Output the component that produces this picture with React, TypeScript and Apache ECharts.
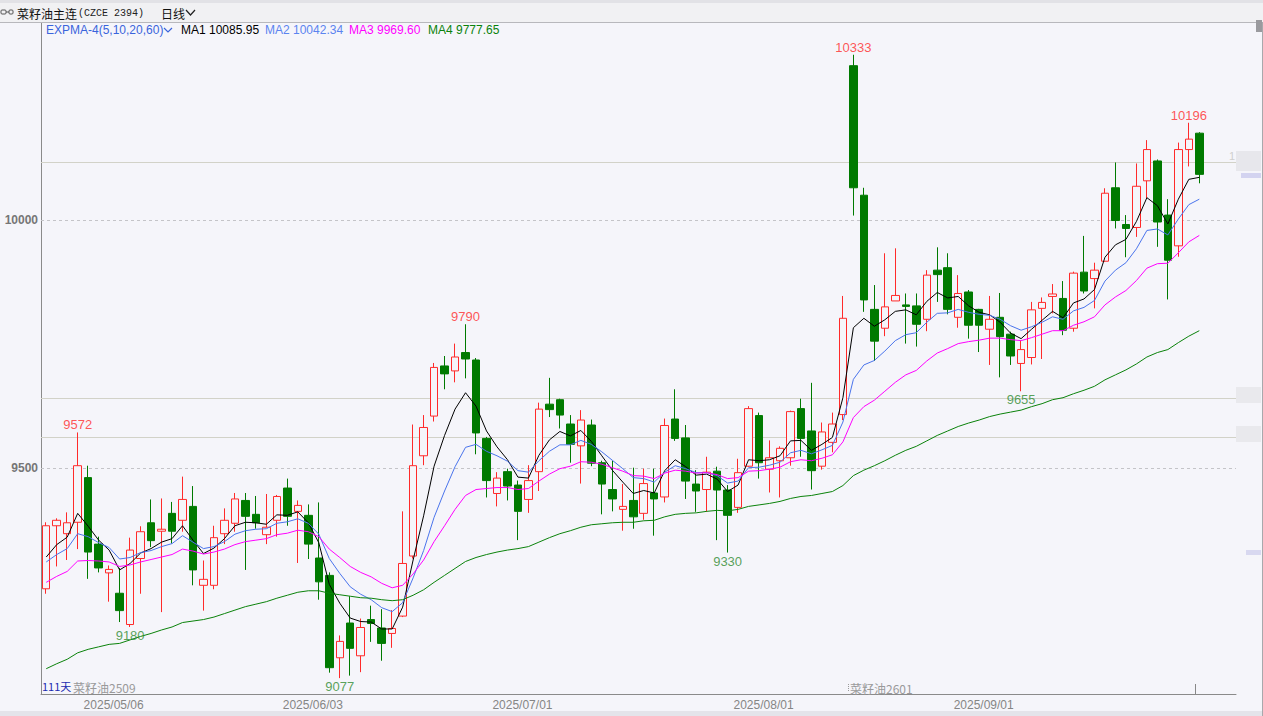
import React, { useEffect, useRef } from "react";
import * as echarts from "echarts";

// ---------- data ----------
const dates = [
  "2025/04/23","2025/04/24","2025/04/25","2025/04/28","2025/04/29","2025/04/30",
  "2025/05/06","2025/05/07","2025/05/08","2025/05/09",
  "2025/05/12","2025/05/13","2025/05/14","2025/05/15","2025/05/16",
  "2025/05/19","2025/05/20","2025/05/21","2025/05/22","2025/05/23",
  "2025/05/26","2025/05/27","2025/05/28","2025/05/29","2025/05/30",
  "2025/06/03","2025/06/04","2025/06/05","2025/06/06",
  "2025/06/09","2025/06/10","2025/06/11","2025/06/12","2025/06/13",
  "2025/06/16","2025/06/17","2025/06/18","2025/06/19","2025/06/20",
  "2025/06/23","2025/06/24","2025/06/25","2025/06/26","2025/06/27",
  "2025/06/30",
  "2025/07/01","2025/07/02","2025/07/03","2025/07/04",
  "2025/07/07","2025/07/08","2025/07/09","2025/07/10","2025/07/11",
  "2025/07/14","2025/07/15","2025/07/16","2025/07/17","2025/07/18",
  "2025/07/21","2025/07/22","2025/07/23","2025/07/24","2025/07/25",
  "2025/07/28","2025/07/29","2025/07/30","2025/07/31",
  "2025/08/01",
  "2025/08/04","2025/08/05","2025/08/06","2025/08/07","2025/08/08",
  "2025/08/11","2025/08/12","2025/08/13","2025/08/14","2025/08/15",
  "2025/08/18","2025/08/19","2025/08/20","2025/08/21","2025/08/22",
  "2025/08/25","2025/08/26","2025/08/27","2025/08/28","2025/08/29",
  "2025/09/01","2025/09/02","2025/09/03","2025/09/04","2025/09/05",
  "2025/09/08","2025/09/09","2025/09/10","2025/09/11","2025/09/12",
  "2025/09/15","2025/09/16","2025/09/17","2025/09/18","2025/09/19",
  "2025/09/22","2025/09/23","2025/09/24","2025/09/25","2025/09/26",
  "2025/09/29","2025/09/30",
];
const padCategories = ["p1", "p2", "p3"];

const opens = [
  9257, 9384, 9368, 9391, 9481, 9347, 9289, 9248, 9185, 9318,
  9390, 9373, 9409, 9395, 9423, 9264, 9264, 9368, 9389, 9435,
  9407, 9366, 9395, 9460, 9413, 9405, 9319, 9284, 9118, 9188,
  9122, 9195, 9178, 9167, 9202, 9323, 9525, 9605, 9706, 9696,
  9733, 9718, 9560, 9449, 9493, 9466, 9437, 9493, 9629, 9638,
  9589, 9545, 9587, 9511, 9457, 9417, 9435, 9409, 9450, 9442,
  9599, 9561, 9468, 9457, 9494, 9456, 9421, 9504, 9606, 9498,
  9515, 9521, 9620, 9575, 9504, 9552, 9608, 10311, 10050, 9820,
  9782, 9837, 9829, 9827, 9800, 9899, 9904, 9804, 9855, 9820,
  9780, 9804, 9770, 9711, 9723, 9822, 9846, 9842, 9782, 9895,
  9882, 9917, 10065, 9991, 9985, 10079, 10119, 10010, 9948, 10142,
  10175,
];
const closes = [
  9384, 9395, 9390, 9505, 9331, 9299, 9296, 9213, 9335, 9372,
  9354, 9377, 9373, 9437, 9295, 9276, 9360, 9395, 9438, 9403,
  9390, 9381, 9443, 9403, 9425, 9347, 9271, 9098, 9151, 9137,
  9179, 9187, 9147, 9177, 9308, 9505, 9582, 9703, 9690, 9724,
  9720, 9571, 9475, 9480, 9464, 9413, 9475, 9619, 9618, 9607,
  9548, 9597, 9510, 9468, 9438, 9423, 9402, 9469, 9438, 9586,
  9560, 9474, 9454, 9492, 9456, 9405, 9491, 9620, 9511, 9521,
  9540, 9614, 9560, 9495, 9573, 9589, 9802, 10065, 9839, 9756,
  9825, 9848, 9826, 9790, 9889, 9890, 9820, 9852, 9788, 9788,
  9800, 9765, 9726, 9739, 9819, 9834, 9851, 9778, 9893, 9857,
  9899, 10054, 9999, 9983, 10068, 10142, 9996, 9919, 10142, 10163,
  10092,
];
const lows = [
  9247, 9302, 9315, 9337, 9277, 9290, 9231, 9190, 9180, 9247,
  9341, 9210, 9348, 9372, 9264, 9213, 9256, 9347, 9372, 9295,
  9378, 9347, 9362, 9384, 9309, 9317, 9235, 9088, 9077, 9082,
  9089, 9150, 9112, 9138, 9200, 9318, 9506, 9594, 9659, 9673,
  9681, 9528, 9441, 9423, 9435, 9355, 9410, 9454, 9603, 9580,
  9511, 9469, 9504, 9407, 9413, 9374, 9378, 9396, 9364, 9431,
  9555, 9438, 9412, 9412, 9355, 9330, 9410, 9503, 9479, 9451,
  9441, 9505, 9523, 9457, 9497, 9532, 9597, 10009, 9815, 9716,
  9766, 9837, 9751, 9745, 9776, 9835, 9810, 9783, 9761, 9734,
  9708, 9683, 9708, 9655, 9709, 9720, 9812, 9768, 9775, 9852,
  9822, 9916, 9983, 9925, 9966, 10044, 9946, 9840, 9926, 10108,
  10074,
];
const highs = [
  9391, 9399, 9411, 9572, 9505, 9362, 9304, 9299, 9360, 9383,
  9437, 9439, 9432, 9483, 9464, 9314, 9384, 9419, 9450, 9450,
  9444, 9448, 9446, 9479, 9435, 9427, 9431, 9290, 9163, 9242,
  9197, 9223, 9216, 9214, 9413, 9588, 9607, 9712, 9726, 9751,
  9790, 9722, 9563, 9492, 9499, 9475, 9506, 9632, 9682, 9640,
  9607, 9617, 9598, 9515, 9515, 9468, 9501, 9499, 9499, 9600,
  9659, 9587, 9496, 9523, 9503, 9466, 9519, 9625, 9612, 9556,
  9544, 9616, 9640, 9672, 9592, 9612, 9847, 10333, 10065, 9869,
  9933, 9943, 9852, 9852, 9899, 9945, 9933, 9889, 9859, 9821,
  9847, 9853, 9775, 9758, 9835, 9844, 9871, 9877, 9896, 9968,
  9914, 10064, 10116, 10010, 10114, 10161, 10122, 10042, 10156, 10196,
  10177,
];

// EXPMA lines (MA1..MA4)
const ma1 = [
  9321, 9346, 9361, 9409, 9383, 9355, 9335, 9295, 9308, 9329,
  9338, 9351, 9358, 9384, 9355, 9328, 9339, 9358, 9384, 9391,
  9390, 9387, 9406, 9405, 9412, 9390, 9350, 9266, 9228, 9198,
  9191, 9190, 9176, 9176, 9220, 9315, 9404, 9504, 9566, 9619,
  9652, 9625, 9575, 9543, 9517, 9482, 9480, 9526, 9557, 9574,
  9565, 9576, 9554, 9525, 9496, 9472, 9449, 9455, 9450, 9495,
  9517, 9503, 9486, 9488, 9478, 9453, 9466, 9517, 9515, 9517,
  9525, 9555, 9556, 9536, 9548, 9562, 9642, 9783, 9802, 9786,
  9799, 9816, 9819, 9809, 9836, 9854, 9843, 9846, 9827, 9814,
  9809, 9794, 9772, 9761, 9780, 9798, 9816, 9803, 9833, 9841,
  9860, 9925, 9950, 9961, 9997, 10045, 10029, 9992, 10042, 10082,
  10086,
];
const ma2 = [
  9311, 9326, 9338, 9368, 9362, 9350, 9340, 9317, 9320, 9330,
  9334, 9342, 9348, 9364, 9351, 9338, 9342, 9352, 9367, 9374,
  9377, 9378, 9389, 9392, 9398, 9389, 9367, 9318, 9288, 9261,
  9246, 9235, 9219, 9211, 9229, 9279, 9334, 9401, 9454, 9503,
  9542, 9548, 9534, 9525, 9514, 9495, 9492, 9515, 9534, 9547,
  9547, 9556, 9548, 9533, 9516, 9499, 9481, 9479, 9472, 9492,
  9505, 9499, 9491, 9491, 9485, 9470, 9474, 9501, 9502, 9506,
  9512, 9531, 9536, 9529, 9537, 9546, 9593, 9679, 9708, 9717,
  9736, 9757, 9769, 9773, 9794, 9812, 9813, 9820, 9814, 9810,
  9808, 9800, 9787, 9778, 9785, 9794, 9805, 9800, 9817, 9824,
  9838, 9877, 9899, 9914, 9942, 9979, 9982, 9970, 10002, 10031,
  10042,
];
const ma3 = [
  9270, 9282, 9292, 9313, 9314, 9313, 9311, 9302, 9305, 9311,
  9316, 9321, 9326, 9337, 9333, 9327, 9331, 9337, 9346, 9352,
  9355, 9358, 9366, 9369, 9375, 9372, 9362, 9337, 9320, 9302,
  9290, 9281, 9268, 9259, 9264, 9287, 9315, 9352, 9384, 9417,
  9445, 9457, 9459, 9461, 9461, 9457, 9459, 9474, 9488, 9499,
  9504, 9513, 9512, 9508, 9501, 9494, 9485, 9484, 9479, 9490,
  9496, 9494, 9490, 9491, 9487, 9479, 9481, 9494, 9495, 9498,
  9502, 9513, 9517, 9515, 9520, 9527, 9553, 9602, 9624, 9637,
  9655, 9673, 9688, 9697, 9716, 9732, 9741, 9751, 9755, 9758,
  9762, 9762, 9759, 9757, 9763, 9770, 9777, 9777, 9788, 9795,
  9805, 9829, 9845, 9858, 9878, 9903, 9912, 9913, 9934, 9956,
  9969,
];
const ma4 = [
  9096, 9106, 9115, 9128, 9135, 9140, 9145, 9147, 9154, 9161,
  9167, 9174, 9180, 9189, 9192, 9195, 9200, 9207, 9214, 9221,
  9226, 9231, 9238, 9244, 9250, 9253, 9253, 9248, 9245, 9242,
  9239, 9238, 9235, 9233, 9235, 9244, 9255, 9270, 9284, 9298,
  9312, 9320, 9326, 9331, 9335, 9338, 9342, 9351, 9360, 9368,
  9374, 9381, 9386, 9388, 9390, 9391, 9391, 9394, 9395, 9402,
  9407, 9409, 9410, 9413, 9415, 9414, 9417, 9423, 9426, 9429,
  9433, 9439, 9443, 9445, 9449, 9453, 9465, 9485, 9496, 9505,
  9515, 9526, 9536, 9544, 9555, 9566, 9575, 9584, 9591, 9597,
  9604, 9609, 9613, 9617, 9624, 9630, 9638, 9642, 9650, 9657,
  9665, 9678, 9688, 9698, 9710, 9724, 9733, 9739, 9753, 9766,
  9777,
];

const xLabelDates = ["2025/05/06", "2025/06/03", "2025/07/01", "2025/08/01", "2025/09/01"];
const yTickValues = [9500, 10000];
const refLevels = [10117, 9641, 9563];
const peakIdx = [3, 40, 77, 109];
const troughIdx = [8, 28, 65, 93];
const legendNames = ["MA1", "MA2", "MA3", "MA4"];
const legendValues = ["10085.95", "10042.34", "9969.60", "9777.65"];
const indicatorName = "EXPMA-4(5,10,20,60)";
const titleName = "菜籽油主连";
const titleCode = "(CZCE 2394)";
const periodName = "日线";
const dayCountText = "111天";
const contractOld = "菜籽油2509";
const contractNew = "菜籽油2601";

// ---------- style ----------
const BG = "#f5f5fa";
const UP = "#ff2a2a";
const DOWN = "#007a00";
const LINE_COLORS = ["#000000", "#4a74ec", "#ff00ff", "#0a820a"];
const LEGEND_X = [181, 265, 349, 428];
const FONT = '"Liberation Sans", Arial, sans-serif';
const CJK = '"Noto Sans CJK SC", "Liberation Sans", sans-serif';

export default function App() {
  const ref = useRef<HTMLDivElement>(null);

  useEffect(() => {
    if (!ref.current) return;
    const chart = echarts.init(ref.current, null, { renderer: "svg" });

    const candleData = dates.map((_, i) => [opens[i], closes[i], lows[i], highs[i]]);
    const maSeries = [ma1, ma2, ma3, ma4].map((d, k) => ({
      type: "line",
      name: legendNames[k],
      data: d,
      showSymbol: false,
      symbol: "none",
      silent: true,
      z: 4,
      lineStyle: { width: 1, color: LINE_COLORS[k] },
    }));

    const graphic: any[] = [
      // header band
      { type: "rect", x: 0, y: 0, shape: { width: 1263, height: 22 }, style: { fill: "#f1f1f3" }, z: 100 },
      { type: "rect", x: 0, y: 0, shape: { width: 1263, height: 3 }, style: { fill: "#e2e2e6" }, z: 100 },
      { type: "line", shape: { x1: 0, y1: 22.5, x2: 1263, y2: 22.5 }, style: { stroke: "#b8b8bc", lineWidth: 1 }, z: 100 },
      // link icon
      { type: "rect", x: 1, y: 10, shape: { width: 5, height: 4, r: 1 }, style: { fill: "none", stroke: "#555", lineWidth: 1 }, z: 101 },
      { type: "line", shape: { x1: 6, y1: 12, x2: 9, y2: 12 }, style: { stroke: "#555", lineWidth: 1 }, z: 101 },
      { type: "rect", x: 9, y: 10, shape: { width: 4, height: 4, r: 1 }, style: { fill: "none", stroke: "#555", lineWidth: 1 }, z: 101 },
      { type: "text", x: 17, y: 13, style: { text: titleName, fill: "#111", font: "12px " + CJK, textVerticalAlign: "middle" }, z: 101 },
      { type: "text", x: 78, y: 13, style: { text: titleCode, fill: "#222", font: '10px "Liberation Mono", monospace', textVerticalAlign: "middle" }, z: 101 },
      { type: "text", x: 161, y: 13, style: { text: periodName, fill: "#111", font: "12px " + CJK, textVerticalAlign: "middle" }, z: 101 },
      { type: "polyline", shape: { points: [[186, 10], [190.5, 15], [195, 10]] }, style: { stroke: "#222", lineWidth: 1.2, fill: null }, z: 101 },
      // indicator legend
      { type: "text", x: 46, y: 30, style: { text: indicatorName, fill: "#3a64dc", font: "12px " + FONT, textVerticalAlign: "middle" }, z: 101 },
      { type: "polyline", shape: { points: [[164, 28], [168, 32], [172, 28]] }, style: { stroke: "#3a64dc", lineWidth: 1.2, fill: null }, z: 101 },
      ...legendNames.map((n, k) => ({
        type: "text",
        x: LEGEND_X[k],
        y: 30,
        style: {
          text: n + " " + legendValues[k],
          fill: k === 1 ? "#5b84f0" : LINE_COLORS[k],
          font: "12px " + FONT,
          textVerticalAlign: "middle",
        },
        z: 101,
      })),
      // bottom texts
      { type: "text", x: 42, y: 686, style: { text: dayCountText, fill: "#1c2bb0", font: "11px " + CJK, textVerticalAlign: "middle" }, z: 102 },
      { type: "text", x: 73, y: 687, style: { text: contractOld, fill: "#9a9a9a", font: "12px " + CJK, textVerticalAlign: "middle" }, z: 101 },
      { type: "line", shape: { x1: 848.5, y1: 684, x2: 848.5, y2: 692 }, style: { stroke: "#999", lineWidth: 1, lineDash: [1, 1] }, z: 101 },
      { type: "text", x: 850, y: 688, style: { text: contractNew, fill: "#9a9a9a", font: "12px " + CJK, textVerticalAlign: "middle" }, z: 101 },
      { type: "line", shape: { x1: 1195.5, y1: 684, x2: 1195.5, y2: 694 }, style: { stroke: "#888", lineWidth: 1 }, z: 101 },
      // bottom band & right border
      { type: "rect", x: 0, y: 711, shape: { width: 1263, height: 5 }, style: { fill: "#e4e4ea" }, z: 100 },
      { type: "line", shape: { x1: 1262.5, y1: 22, x2: 1262.5, y2: 716 }, style: { stroke: "#a8a8ac", lineWidth: 1 }, z: 100 },
      { type: "rect", x: 1256, y: 20, shape: { width: 6, height: 12 }, style: { fill: "#9a9a9e" }, z: 100 },
      // faint right-side price tags
      { type: "text", x: 1229, y: 156, style: { text: "1", fill: "#cfcfcf", font: "11px " + FONT, textVerticalAlign: "middle" }, z: 99 },
      { type: "rect", x: 1236, y: 151, shape: { width: 25, height: 20 }, style: { fill: "rgba(205,205,210,0.35)" }, z: 99 },
      { type: "rect", x: 1241, y: 173, shape: { width: 20, height: 5 }, style: { fill: "rgba(150,150,220,0.35)" }, z: 99 },
      { type: "rect", x: 1236, y: 387, shape: { width: 25, height: 16 }, style: { fill: "rgba(205,205,210,0.3)" }, z: 99 },
      { type: "rect", x: 1236, y: 426, shape: { width: 25, height: 16 }, style: { fill: "rgba(205,205,210,0.3)" }, z: 99 },
      { type: "rect", x: 1246, y: 550, shape: { width: 15, height: 5 }, style: { fill: "rgba(150,150,220,0.3)" }, z: 99 },
    ];

    const option: any = {
      animation: false,
      backgroundColor: BG,
      textStyle: { fontFamily: FONT },
      grid: { left: 41, right: 27, top: 22, bottom: 22, containLabel: false },
      xAxis: {
        type: "category",
        data: [...dates, ...padCategories],
        boundaryGap: true,
        axisLine: { show: true, lineStyle: { color: "#8a8a8a", width: 1 } },
        axisTick: { show: false },
        splitLine: { show: false },
        axisLabel: {
          interval: (_i: number, v: string) => xLabelDates.includes(v),
          color: "#858585",
          fontSize: 12,
          fontFamily: FONT,
          margin: 5,
          padding: [0, 0, 0, 9],
        },
      },
      yAxis: {
        type: "value",
        min: 9045,
        max: 10399,
        axisLine: { show: true, lineStyle: { color: "#8a8a8a", width: 1 } },
        axisTick: { show: false },
        splitLine: { show: false },
        axisLabel: {
          customValues: yTickValues,
          formatter: (v: number) => String(v),
          color: "#767676",
          fontWeight: "bold",
          fontSize: 12,
          fontFamily: FONT,
          margin: 3,
        },
      },
      series: [
        {
          type: "candlestick",
          data: candleData,
          barWidth: 8,
          silent: true,
          z: 3,
          itemStyle: {
            color: BG,
            color0: DOWN,
            borderColor: UP,
            borderColor0: DOWN,
            borderWidth: 1,
          },
          markLine: {
            silent: true,
            symbol: ["none", "none"],
            label: { show: false },
            z: 2,
            data: [
              ...yTickValues.map((v) => ({ yAxis: v, lineStyle: { type: [3, 3], color: "#c4c4c8", width: 1 } })),
              ...refLevels.map((v) => ({ yAxis: v, lineStyle: { type: "solid", color: "#d2d2c8", width: 1 } })),
            ],
          },
        },
        ...maSeries,
        {
          type: "scatter",
          data: peakIdx.map((i) => [i, highs[i]]),
          symbolSize: 0,
          silent: true,
          z: 6,
          label: {
            show: true,
            position: "top",
            distance: 1,
            color: UP,
            fontSize: 13,
            fontFamily: FONT,
            formatter: (p: any) => String(p.value[1]),
          },
        },
        {
          type: "scatter",
          data: troughIdx.map((i) => [i, lows[i]]),
          symbolSize: 0,
          silent: true,
          z: 6,
          label: {
            show: true,
            position: "bottom",
            distance: 2,
            color: "#2f8a2f",
            fontSize: 13,
            fontFamily: FONT,
            formatter: (p: any) => String(p.value[1]),
          },
        },
      ],
      graphic,
    };

    chart.setOption(option);
    return () => chart.dispose();
  }, []);

  return (
    <div
      ref={ref}
      style={{ position: "fixed", left: 0, top: 0, width: 1263, height: 716 }}
    />
  );
}
